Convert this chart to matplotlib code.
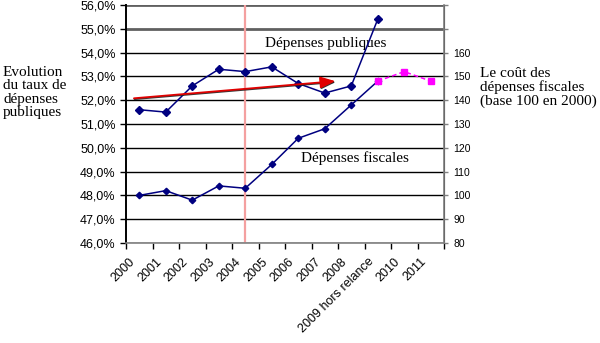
import matplotlib
matplotlib.use("Agg")
import matplotlib.pyplot as plt
import matplotlib.patheffects as pe
import matplotlib.transforms as mtransforms
import numpy as np
from matplotlib.ticker import FuncFormatter

# catégories (années)
annees = ["2000", "2001", "2002", "2003", "2004", "2005", "2006", "2007",
          "2008", "2009 hors relance", "2010", "2011"]

# taux de dépenses publiques (% du PIB), 2000-2009
depenses_publiques = [51.6, 51.5, 52.6, 53.3, 53.2, 53.4, 52.7, 52.3, 52.6, 55.4]

# coût des dépenses fiscales (base 100 en 2000), 2000-2009
depenses_fiscales = [100, 102, 98, 104, 103, 113, 124, 128, 138, 148]

# prévisions 2009-2011
fiscales_prevision = [148, 152, 148]

# tendance des dépenses publiques (début / fin de la flèche)
tendance_x = [-0.2, 7.4]
tendance_y = [52.08, 52.8]

# année de rupture
annee_rupture = 4

NAVY = "#000080"
SERIF = "Liberation Serif"
SANS = "Liberation Sans"

fig = plt.figure(figsize=(6, 3.43), dpi=100)
ax = fig.add_axes([0.21, 0.2915, 0.53, 0.694])
ax2 = ax.twinx()

x = np.arange(len(annees))

ax.set_xlim(-0.5, len(annees) - 0.5)
ax.set_ylim(46, 56)
ax2.set_ylim(80, 180)

# grille horizontale
for v in np.arange(46, 57, 1.0):
    if v >= 55:
        ax.axhline(v, color="#606060", lw=2.0, zorder=1)
    else:
        ax.axhline(v, color="black", lw=1.0, zorder=1)

ax.axvline(annee_rupture, color="#F4A0A0", lw=1.6, zorder=2)

ax.plot(x[:len(depenses_publiques)], depenses_publiques, color=NAVY, lw=1.1,
        marker="D", ms=4.3, zorder=5)

ax2.plot(x[:len(depenses_fiscales)], depenses_fiscales, color=NAVY, lw=1.1,
         marker="D", ms=3.3, zorder=5)
ax2.plot(x[9:9 + len(fiscales_prevision)], fiscales_prevision, color="#FF00FF",
         lw=1.1, ls=(0, (3, 2)), marker="s", ms=4.3, zorder=5)

# flèche de tendance
fl = ax.annotate("", xy=(tendance_x[1], tendance_y[1]), xytext=(tendance_x[0], tendance_y[0]),
                 arrowprops=dict(arrowstyle="-|>,head_length=0.9,head_width=0.35",
                                 color="#E00000", lw=1.3, shrinkA=0, shrinkB=0), zorder=6)
fl.arrow_patch.set_path_effects([
    pe.SimpleLineShadow(offset=(0.4, -0.6), shadow_color="#202020", alpha=0.9),
    pe.Normal(),
])

ax.text(7.05, 54.4, "Dépenses publiques", family=SERIF, fontsize=11, ha="center", va="center")
ax.text(8.15, 49.57, "Dépenses fiscales", family=SERIF, fontsize=11, ha="center", va="center")

# axes
ax.set_xticks(np.arange(-0.5, len(annees) + 0.5, 1.0))
ax.set_xticklabels([])
ax.set_xticks(x, minor=True)
ax.set_xticklabels(annees, minor=True, rotation=45, ha="right", va="center",
                   rotation_mode="anchor", family=SANS, fontsize=9)
ax.tick_params(axis="x", which="major", length=4, width=1, direction="out")
ax.tick_params(axis="x", which="minor", length=0, pad=12)
decalage = mtransforms.ScaledTranslation(-6 / 100, 0, fig.dpi_scale_trans)
for t in ax.get_xticklabels(minor=True):
    t.set_transform(t.get_transform() + decalage)

ax.set_yticks(np.arange(46, 57, 1.0))
ax.yaxis.set_major_formatter(FuncFormatter(lambda v, p: f"{v:.1f}%".replace(".", ",")))
ax.tick_params(axis="y", length=4, width=1, direction="out", labelsize=9)
for t in ax.get_yticklabels():
    t.set_family(SANS)

ax2.set_yticks(np.arange(80, 181, 10))
ax2.set_yticklabels([str(v) if v <= 160 else "" for v in range(80, 181, 10)],
                    family=SANS, fontsize=7.5)
ax2.tick_params(axis="y", length=3, width=1, direction="out", color="#808080")

for s in ["top"]:
    ax.spines[s].set_visible(False)
    ax2.spines[s].set_visible(False)
ax.spines["left"].set_linewidth(1.4)
ax.spines["bottom"].set_color("#808080")
ax.spines["bottom"].set_linewidth(1.2)
ax2.spines["right"].set_color("#808080")
ax2.spines["right"].set_linewidth(1.2)
ax2.spines["left"].set_visible(False)
ax2.spines["bottom"].set_visible(False)

fig.text(0.005, 0.807, "Evolution\ndu taux de\ndépenses\npubliques", family=SERIF,
         fontsize=11, ha="left", va="top", linespacing=1.03)
fig.text(0.80, 0.805, "Le coût des\ndépenses fiscales\n(base 100 en 2000)", family=SERIF,
         fontsize=11, ha="left", va="top", linespacing=1.03)

fig.savefig("out.png", dpi=100)
